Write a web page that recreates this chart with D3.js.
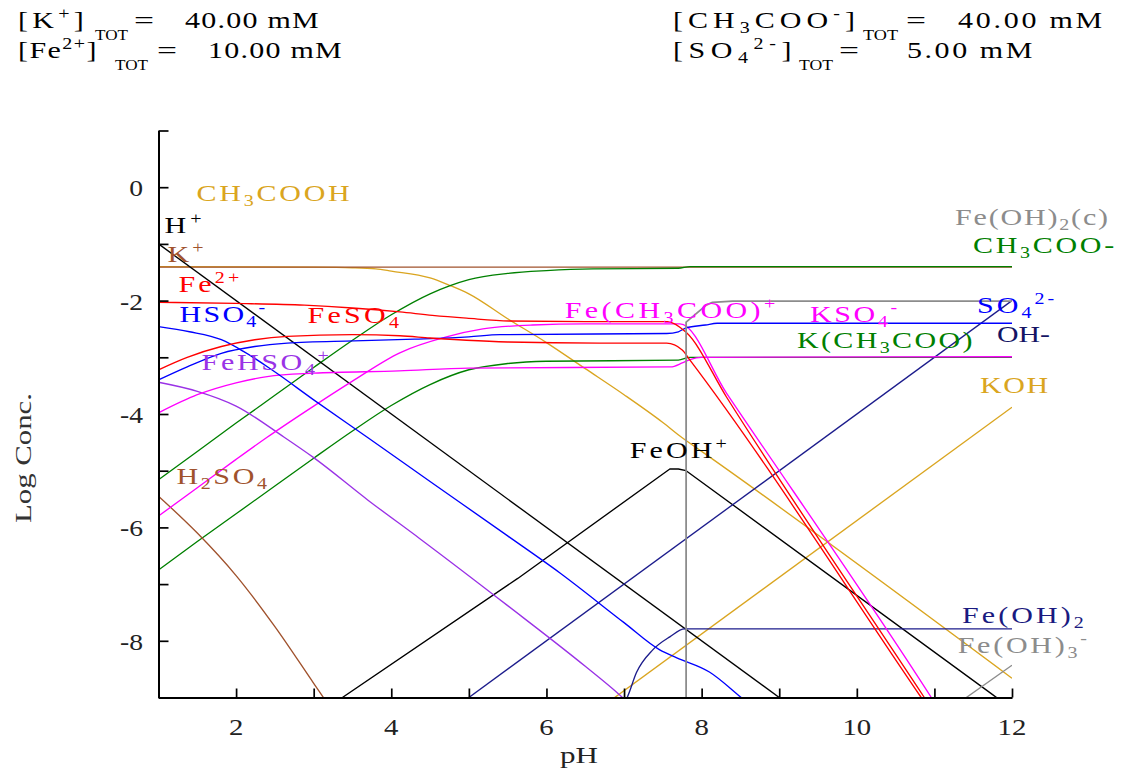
<!DOCTYPE html>
<html><head><meta charset="utf-8">
<script src="https://cdn.jsdelivr.net/npm/d3@7"></script>
<style>
body{margin:0;background:#fff}
svg{display:block}
text{font-family:"Liberation Serif","DejaVu Serif",serif}
</style>
</head><body>
<svg id="c" width="1121" height="778"></svg>
<script>
// ---------------- DATA ----------------
const pHDomain = [1, 12];
const logDomain = [-9, 1];
const xTickValues = [1,2,3,4,5,6,7,8,9,10,11,12];
const yTickValues = [-9,-8,-7,-6,-5,-4,-3,-2,-1,0,1];
const xTickLabels = [2,4,6,8,10,12];
const yTickLabels = [0,-2,-4,-6,-8];

const totals = [
  {name:"[K^{+}]", value:40.00},
  {name:"[Fe^{2+}]", value:10.00},
  {name:"[CH_{3}COO^{-}]", value:40.00},
  {name:"[SO_{4}^{2-}]", value:5.00}
];

// [pH, log conc]
const hPlus = [[1,-1],[9.3,-9.3]];
const ohMinus = [[5,-9],[12,-2]];
const kPlus = [[1,-1.41],[12,-1.41]];
const ch3cooh = [[1,-1.40],[3,-1.41],[3.5,-1.42],[3.8,-1.44],[4,-1.48],[4.5,-1.60],[4.75,-1.73],[5,-1.88],[5.5,-2.32],[6,-2.74],[6.5,-3.20],[7,-3.66],[7.5,-4.15],[7.75,-4.42],[8,-4.66],[12,-8.66]];
const ch3cooMinus = [[1,-5.16],[1.5,-4.66],[2,-4.16],[2.5,-3.67],[3,-3.18],[3.5,-2.70],[4,-2.25],[4.5,-1.88],[4.75,-1.74],[5,-1.63],[5.5,-1.52],[6,-1.47],[6.6,-1.44],[7.7,-1.43],[7.85,-1.40],[12,-1.40]];
const kCh3coo = [[1,-6.75],[1.5,-6.25],[2,-5.76],[2.5,-5.27],[3,-4.78],[3.5,-4.30],[4,-3.85],[4.5,-3.48],[5,-3.22],[5.5,-3.11],[6,-3.07],[7.7,-3.05],[7.85,-3.0],[12,-3.0]];
const h2so4 = [[1,-5.45],[1.5,-6.10],[2,-6.85],[2.5,-7.75],[3,-8.75],[3.2,-9.15]];
const hso4 = [[1,-2.46],[1.4,-2.55],[1.81,-2.69],[2.1,-2.90],[2.46,-3.22],[3.0,-3.75],[3.7,-4.42],[4.5,-5.19],[5.5,-6.15],[6.17,-6.80],[7.0,-7.68],[7.46,-8.16],[7.68,-8.30],[8.1,-8.55],[8.51,-9.0],[8.6,-9.1]];
const so4 = [[1,-3.40],[1.37,-3.17],[1.81,-2.93],[2.24,-2.81],[2.66,-2.75],[3.52,-2.71],[4.3,-2.68],[5.0,-2.64],[5.4,-2.60],[7.55,-2.58],[7.7,-2.55],[7.8,-2.48],[8.05,-2.43],[8.2,-2.40],[12,-2.40]];
const fe2 = [[1,-2.03],[2,-2.05],[2.88,-2.08],[3.5,-2.13],[4.11,-2.20],[4.53,-2.26],[4.97,-2.31],[5.52,-2.36],[6.5,-2.37],[7.56,-2.37],[7.8,-2.56],[8.32,-3.70],[10.87,-9],[11,-9.27]];
const feso4 = [[1,-3.22],[1.37,-3.00],[1.81,-2.81],[2.24,-2.69],[2.66,-2.63],[3.5,-2.60],[4.11,-2.62],[4.5,-2.66],[4.97,-2.70],[5.5,-2.73],[6.68,-2.75],[7.55,-2.75],[7.75,-2.87],[7.85,-3.05],[10.83,-9],[11,-9.34]];
const feAc = [[1,-5.80],[1.5,-5.30],[2,-4.80],[2.4,-4.41],[3,-3.86],[3.5,-3.42],[4.11,-2.92],[4.71,-2.64],[5.18,-2.50],[5.82,-2.43],[6.5,-2.41],[7.72,-2.41],[8.32,-3.63],[10.96,-9],[11.1,-9.3]];
const kso4 = [[1,-3.98],[1.5,-3.66],[2,-3.45],[2.4,-3.34],[3,-3.28],[4.1,-3.24],[5,-3.19],[7.6,-3.17],[7.75,-3.10],[7.85,-3.04],[8.0,-3.0],[12,-2.99]];
const fehso4 = [[1,-3.44],[1.5,-3.60],[2,-3.86],[2.62,-4.41],[3,-4.77],[3.7,-5.52],[4.36,-6.19],[5.5,-7.38],[6.5,-8.45],[6.94,-8.95],[7.1,-9.15]];
const feoh = [[3.2,-9.13],[3.37,-9],[5.63,-6.90],[7.59,-4.97],[7.70,-4.97],[7.80,-5.0],[11.75,-8.95],[12,-9.2]];
const feoh2aq = [[7.0,-9.1],[7.04,-9.0],[7.16,-8.56],[7.37,-8.16],[7.59,-7.93],[7.78,-7.79],[12,-7.79]];
const feoh2c = [[7.80,-9.2],[7.80,-2.38],[8.06,-2.08],[8.14,-2.03],[8.4,-2.01],[12,-2.01]];
const feoh3 = [[11.35,-9.06],[12,-8.43]];
const koh = [[6.8,-9.08],[12,-3.88]];

// ---------------- STYLE / LAYOUT ----------------
const COL = {gold:"#DAA520", brown:"#A0522D", red:"#FF0000", blue:"#0000FF", purple:"#9A32E6",
  magenta:"#FF00FF", green:"#008000", navy:"#1C1C8C", gray:"#8C8C8C", black:"#000000"};

const series = [
  {d:ch3cooh, c:COL.gold},
  {d:kPlus, c:COL.brown, curve:"lin"},
  {d:ch3cooMinus, c:COL.green},
  {d:kCh3coo, c:COL.green},
  {d:koh, c:COL.gold, curve:"lin"},
  {d:h2so4, c:COL.brown},
  {d:hPlus, c:COL.black, curve:"lin"},
  {d:feoh, c:COL.black, curve:"lin"},
  {d:ohMinus, c:COL.navy, curve:"lin"},
  {d:feoh2aq, c:COL.navy},
  {d:fehso4, c:COL.purple},
  {d:kso4, c:COL.magenta},
  {d:feAc, c:COL.magenta},
  {d:hso4, c:COL.blue},
  {d:so4, c:COL.blue},
  {d:feso4, c:COL.red},
  {d:fe2, c:COL.red},
  {d:feoh3, c:COL.gray, curve:"lin"},
  {d:feoh2c, c:COL.gray, curve:"lin", w:1.8}
];

// label anchors in data coordinates [pH, log] (left/baseline), target width px
const labelLayout = [
  {m:"CH_{3}COOH", p:[1.49,-0.243], w:156, c:COL.gold},
  {m:"H^{+}", p:[1.077,-0.81], w:41, c:COL.black},
  {m:"K^{+}", p:[1.116,-1.32], w:39, c:COL.brown},
  {m:"Fe^{2+}", p:[1.258,-1.85], w:64, c:COL.red},
  {m:"HSO_{4}^{-}", p:[1.271,-2.38], w:88, c:COL.blue},
  {m:"FeSO_{4}", p:[2.92,-2.39], w:95, c:COL.red},
  {m:"FeHSO_{4}^{+}", p:[1.555,-3.22], w:130, c:COL.purple},
  {m:"H_{2}SO_{4}", p:[1.232,-5.23], w:93, c:COL.brown},
  {m:"Fe(CH_{3}COO)^{+}", p:[6.236,-2.30], w:214, c:COL.magenta},
  {m:"KSO_{4}^{-}", p:[9.395,-2.37], w:90, c:COL.magenta},
  {m:"K(CH_{3}COO)", p:[9.228,-2.836], w:178, c:COL.green},
  {m:"CH_{3}COO-", p:[11.497,-1.16], w:144, c:COL.green},
  {m:"Fe(OH)_{2}(c)", p:[11.265,-0.66], w:155, c:COL.gray},
  {m:"SO_{4}^{2-}", p:[11.55,-2.22], w:80, c:COL.blue},
  {m:"OH-", p:[11.807,-2.73], w:53, c:"#141464"},
  {m:"KOH", p:[11.587,-3.63], w:70, c:COL.gold},
  {m:"FeOH^{+}", p:[7.074,-4.776], w:100, c:COL.black},
  {m:"Fe(OH)_{2}", p:[11.355,-7.68], w:125, c:"#1a1a80"},
  {m:"Fe(OH)_{3}^{-}", p:[11.30,-8.22], w:132, c:COL.gray}
];

const headerLayout = [
  {x:18, y:28, nameW:70, totX:95, totW:33, eqX:134, valX:185, valW:135},
  {x:18, y:58, nameW:80, totX:115, totW:33, eqX:157, valX:208, valW:135},
  {x:673, y:28, nameW:187, totX:863, totW:35, eqX:906, valX:958, valW:147},
  {x:673, y:58, nameW:124, totX:799, totW:34, eqX:839, valX:907, valW:128}
];

// ---------------- DRAW ----------------
const svg = d3.select("#c");
const x = d3.scaleLinear().domain(pHDomain).range([158.5, 1012]);
const y = d3.scaleLinear().domain(logDomain).range([697.5, 130.5]);

svg.append("defs").append("clipPath").attr("id","plot")
  .append("rect").attr("x",x(1)).attr("y",y(1)).attr("width",x(12)-x(1)).attr("height",y(-9)-y(1));

const plot = svg.append("g").attr("clip-path","url(#plot)");
series.forEach(s => {
  const line = d3.line().x(d=>x(d[0])).y(d=>y(d[1]))
    .curve(s.curve==="lin" ? d3.curveLinear : d3.curveMonotoneX);
  plot.append("path").attr("d", line(s.d)).attr("fill","none")
    .attr("stroke", s.c).attr("stroke-width", s.w || 1.35).attr("stroke-linejoin","round");
});

// axes
const gx = svg.append("g").attr("transform",`translate(0,${y(-9)})`)
  .call(d3.axisBottom(x).tickValues(xTickValues).tickSizeInner(-9).tickSizeOuter(0).tickFormat(""));
const gy = svg.append("g").attr("transform",`translate(${x(1)},0)`)
  .call(d3.axisLeft(y).tickValues(yTickValues).tickSizeInner(-10).tickSizeOuter(0).tickFormat(""));
[gx,gy].forEach(g=>{
  g.select(".domain").attr("stroke","#000").attr("stroke-width",2);
  g.selectAll(".tick line").attr("stroke","#000").attr("stroke-width",1.7);
});

// rich text helper
function richText(g, markup, o) {
  const t = g.append("text").attr("x",0).attr("y",0).attr("font-size",o.size).attr("fill",o.color)
    .style("white-space","pre");
  const parts = markup.match(/(_\{[^}]*\}|\^\{[^}]*\}|[^_^]+)/g);
  let off = 0, n = 0;
  parts.forEach(m => {
    let txt = m, target = 0, size = o.size;
    if (m.startsWith("_{")) { txt = m.slice(2,-1); target = o.sub; size = o.small; }
    else if (m.startsWith("^{")) { txt = m.slice(2,-1); target = o.sup; size = o.small; }
    t.append("tspan").attr("dy", target - off).attr("font-size", size).text(txt);
    off = target; n += txt.length;
  });
  t.property("__n", n);
  return t;
}
// widen glyphs, add a touch of letter-spacing, then fit exactly
function fitText(markup, px, py, width, o) {
  const g = svg.append("g");
  const t = richText(g, markup, o);
  const s0 = 1.25;
  const n = t.property("__n");
  let bb = t.node().getBBox();
  const extra = width / s0 - bb.width;
  if (n > 1 && extra > 0) {
    t.attr("letter-spacing", (extra / n).toFixed(2));
    bb = t.node().getBBox();
  }
  const s = width / bb.width;
  g.attr("transform", `translate(${px},${py}) scale(${s},1) translate(${-bb.x},0)`);
  return g;
}

const labOpt = {size:24, small:16, sub:5, sup:-9};
labelLayout.forEach(l => {
  fitText(l.m, x(l.p[0]), y(l.p[1]), l.w, Object.assign({color:l.c}, labOpt));
});

// header
const hOpt = {size:24, small:16, sub:5, sup:-9, color:"#000"};
const tOpt = {size:15, small:15, sub:0, sup:0, color:"#000"};
totals.forEach((t,i) => {
  const h = headerLayout[i];
  fitText(t.name, h.x, h.y, h.nameW, hOpt);
  fitText("TOT", h.totX, h.y + 12, h.totW, tOpt);
  fitText("=", h.eqX, h.y, 20, hOpt);
  fitText(t.value.toFixed(2) + " mM", h.valX, h.y, h.valW, hOpt);
});

// tick labels
xTickLabels.forEach(v => {
  svg.append("text").attr("font-size",24).attr("fill","#222").attr("text-anchor","middle")
    .attr("transform",`translate(${x(v)},735) scale(1.2,1)`).text(String(v));
});
yTickLabels.forEach(v => {
  svg.append("text").attr("font-size",24).attr("fill","#222").attr("text-anchor","end")
    .attr("transform",`translate(143,${y(v)+9}) scale(1.15,1)`).text(String(v));
});

// axis titles
{
  const g = svg.append("g");
  const t = g.append("text").attr("font-size",24).attr("fill","#333").attr("text-anchor","middle").text("Log Conc.");
  const w = t.node().getBBox().width;
  g.attr("transform",`translate(31,458) rotate(-90) scale(${130/w},1)`);
}
{
  const g = svg.append("g");
  const t = g.append("text").attr("font-size",24).attr("fill","#222").attr("text-anchor","middle").text("pH");
  const w = t.node().getBBox().width;
  g.attr("transform",`translate(579,763) scale(${38/w},1)`);
}
</script>
</body></html>
